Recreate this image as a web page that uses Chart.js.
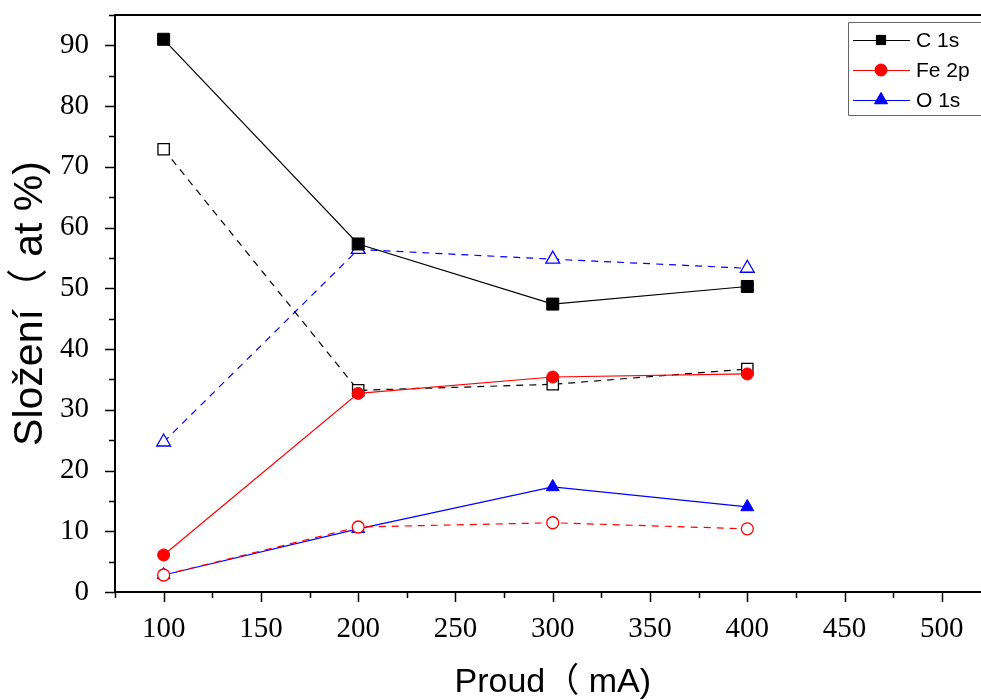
<!DOCTYPE html>
<html><head><meta charset="utf-8">
<script src="https://cdn.jsdelivr.net/npm/chart.js@4/dist/chart.umd.min.js"></script>
<style>html,body{margin:0;padding:0;background:#fff;overflow:hidden}#wrap{width:981px;height:700px;overflow:hidden;position:relative}canvas{display:block}</style>
</head><body><div id="wrap"><canvas id="c" width="1000" height="700"></canvas></div>
<script>
const currents = [100, 200, 300, 400];
const c1s   = [91.0, 57.3, 47.4, 50.3];
const c1sB  = [72.9, 33.2, 34.2, 36.7];
const fe2p  = [6.1, 32.7, 35.4, 35.9];
const fe2pB = [2.8, 10.7, 11.4, 10.4];
const o1s   = [2.8, 10.4, 17.3, 14.0];
const o1sB  = [24.7, 56.4, 54.8, 53.3];
const seriesNames = ['C 1s', 'Fe 2p', 'O 1s'];
const xTitle = 'Proud（ mA)';
const yTitle = 'Složení（ at %)';

const pts = arr => arr.map((v, i) => ({x: currents[i], y: v}));

function ds(label, arr, color, style, filled, dashed, radius) {
  return {
    label, data: pts(arr), borderColor: color, backgroundColor: filled ? color : '#fff',
    pointBorderColor: color, pointBackgroundColor: filled ? color : '#fff',
    borderWidth: 1.2, pointBorderWidth: filled ? 1 : 1.3, pointStyle: style,
    pointRadius: radius, borderDash: dashed ? [7, 6] : [], tension: 0, showLine: true, fill: false
  };
}

const datasets = [
  ds('Fe 2p b', fe2pB, '#ff0000', 'circle', false, true, 6),
  ds('C 1s', c1s, '#000000', 'rect', true, false, 8.5),
  ds('Fe 2p', fe2p, '#ff0000', 'circle', true, false, 6),
  ds('O 1s', o1s, '#0000ff', 'triangle', true, false, 7.5),
  ds('C 1s b', c1sB, '#000000', 'rect', false, true, 8),
  ds('O 1s b', o1sB, '#0000ff', 'triangle', false, true, 8),
];

const frame = {
  id: 'frame',
  afterDraw(chart) {
    const ctx = chart.ctx, a = chart.chartArea;
    const xs = chart.scales.x, ys = chart.scales.y;
    ctx.save();
    // keep the right side of the plot open (the reference is cropped there)
    ctx.fillStyle = '#fff';
    ctx.fillRect(960, a.top + 2, 60, a.bottom - a.top - 4);
    ctx.strokeStyle = '#000'; ctx.lineWidth = 2;
    ctx.beginPath();
    ctx.moveTo(a.right + 20, a.top); ctx.lineTo(a.left, a.top); ctx.lineTo(a.left, a.bottom); ctx.lineTo(a.right + 20, a.bottom);
    ctx.stroke();
    ctx.lineWidth = 1.5;
    ctx.beginPath();
    for (let v = 0; v <= 95; v += 5) {
      const y = Math.round(ys.getPixelForValue(v)) + 0.5;
      const len = v % 10 === 0 ? 10 : 6;
      ctx.moveTo(a.left - len, y); ctx.lineTo(a.left, y);
    }
    for (let v = 75; v <= 525; v += 25) {
      const x = Math.round(xs.getPixelForValue(v)) + 0.5;
      const len = v % 50 === 0 ? 10 : 6;
      ctx.moveTo(x, a.bottom); ctx.lineTo(x, a.bottom + len);
    }
    ctx.stroke();
    // legend
    ctx.fillStyle = '#fff';
    ctx.fillRect(848, 22, 200, 93);
    ctx.strokeStyle = '#666'; ctx.lineWidth = 1;
    ctx.beginPath();
    ctx.moveTo(1048, 22.5); ctx.lineTo(848.5, 22.5); ctx.lineTo(848.5, 115.5); ctx.lineTo(1048, 115.5);
    ctx.stroke();
    const leg = [
      {c: '#000', s: 'rect', r: 6.5},
      {c: '#ff0000', s: 'circle', r: 6},
      {c: '#0000ff', s: 'triangle', r: 7.5}
    ];
    ctx.font = '21px "Liberation Sans", Arial, sans-serif';
    ctx.textBaseline = 'middle';
    leg.forEach((e, i) => {
      const y = 40 + i * 30;
      ctx.strokeStyle = e.c; ctx.lineWidth = 1;
      ctx.beginPath(); ctx.moveTo(853, y + 0.5); ctx.lineTo(910, y + 0.5); ctx.stroke();
      ctx.fillStyle = e.c;
      Chart.helpers.drawPoint(ctx, {pointStyle: e.s, radius: e.r, rotation: 0, borderWidth: 1}, 881, y);
      ctx.fill();
      ctx.fillStyle = '#000';
      ctx.fillText(seriesNames[i], 916, y + 1);
    });
    ctx.restore();
  }
};

new Chart(document.getElementById('c'), {
  type: 'scatter',
  data: {datasets},
  options: {
    responsive: false, animation: false,
    layout: {padding: {top: 15, right: 7, left: 0, bottom: 0}},
    plugins: {legend: {display: false}, tooltip: {enabled: false}},
    scales: {
      x: {
        type: 'linear', min: 75, max: 525,
        grid: {display: false}, border: {display: false},
        ticks: {stepSize: 25, autoSkip: false, maxRotation: 0, padding: 12, color: '#000',
          font: {family: '"Liberation Serif", "Times New Roman", serif', size: 29},
          callback: v => v % 50 === 0 ? String(v) : ''},
        title: {display: true, text: xTitle, color: '#000', padding: {top: 26, bottom: -3},
          font: {family: '"Liberation Sans", Arial, "Noto Sans CJK TC", sans-serif', size: 34}},
        afterFit: s => { s.height = 108; s.paddingLeft = 0; s.paddingRight = 0; }
      },
      y: {
        type: 'linear', min: 0, max: 95,
        grid: {display: false}, border: {display: false},
        ticks: {stepSize: 5, autoSkip: false, padding: 18, color: '#000',
          font: {family: '"Liberation Serif", "Times New Roman", serif', size: 29},
          callback: v => v % 10 === 0 ? String(v) : ''},
        title: {display: true, text: yTitle, color: '#000', padding: {top: 6, bottom: 0},
          font: {family: '"Liberation Sans", Arial, "Noto Sans CJK TC", sans-serif', size: 41}},
        afterFit: s => { s.width = 115; s.paddingTop = 0; s.paddingBottom = 0; }
      }
    }
  },
  plugins: [frame]
});
</script>
</body></html>
